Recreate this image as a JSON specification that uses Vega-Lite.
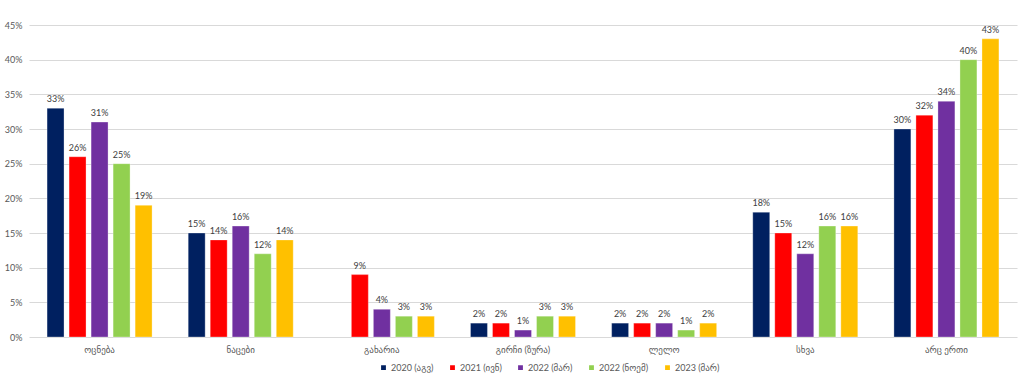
{
  "$schema": "https://vega.github.io/schema/vega-lite/v6.json",
  "width": 988,
  "height": 312,
  "autosize": {"type": "none"},
  "padding": {"left": 29, "top": 25, "right": 7, "bottom": 44},
  "background": "white",
  "config": {
    "view": {"stroke": null},
    "font": "Lato, DejaVu Sans",
    "axis": {"labelFont": "Lato, DejaVu Sans", "labelColor": "#595959", "labelFontSize": 9},
    "legend": {"labelFont": "Lato, DejaVu Sans", "labelColor": "#595959", "labelFontSize": 9}
  },
  "data": {
    "values": [
      {"party": "ოცნება", "wave": "2020 (აგვ)", "value": 0.33},
      {"party": "ოცნება", "wave": "2021 (ივნ)", "value": 0.26},
      {"party": "ოცნება", "wave": "2022 (მარ)", "value": 0.31},
      {"party": "ოცნება", "wave": "2022 (ნოემ)", "value": 0.25},
      {"party": "ოცნება", "wave": "2023 (მარ)", "value": 0.19},
      {"party": "ნაცები", "wave": "2020 (აგვ)", "value": 0.15},
      {"party": "ნაცები", "wave": "2021 (ივნ)", "value": 0.14},
      {"party": "ნაცები", "wave": "2022 (მარ)", "value": 0.16},
      {"party": "ნაცები", "wave": "2022 (ნოემ)", "value": 0.12},
      {"party": "ნაცები", "wave": "2023 (მარ)", "value": 0.14},
      {"party": "გახარია", "wave": "2021 (ივნ)", "value": 0.09},
      {"party": "გახარია", "wave": "2022 (მარ)", "value": 0.04},
      {"party": "გახარია", "wave": "2022 (ნოემ)", "value": 0.03},
      {"party": "გახარია", "wave": "2023 (მარ)", "value": 0.03},
      {"party": "გირჩი (ზურა)", "wave": "2020 (აგვ)", "value": 0.02},
      {"party": "გირჩი (ზურა)", "wave": "2021 (ივნ)", "value": 0.02},
      {"party": "გირჩი (ზურა)", "wave": "2022 (მარ)", "value": 0.01},
      {"party": "გირჩი (ზურა)", "wave": "2022 (ნოემ)", "value": 0.03},
      {"party": "გირჩი (ზურა)", "wave": "2023 (მარ)", "value": 0.03},
      {"party": "ლელო", "wave": "2020 (აგვ)", "value": 0.02},
      {"party": "ლელო", "wave": "2021 (ივნ)", "value": 0.02},
      {"party": "ლელო", "wave": "2022 (მარ)", "value": 0.02},
      {"party": "ლელო", "wave": "2022 (ნოემ)", "value": 0.01},
      {"party": "ლელო", "wave": "2023 (მარ)", "value": 0.02},
      {"party": "სხვა", "wave": "2020 (აგვ)", "value": 0.18},
      {"party": "სხვა", "wave": "2021 (ივნ)", "value": 0.15},
      {"party": "სხვა", "wave": "2022 (მარ)", "value": 0.12},
      {"party": "სხვა", "wave": "2022 (ნოემ)", "value": 0.16},
      {"party": "სხვა", "wave": "2023 (მარ)", "value": 0.16},
      {"party": "არც ერთი", "wave": "2020 (აგვ)", "value": 0.30},
      {"party": "არც ერთი", "wave": "2021 (ივნ)", "value": 0.32},
      {"party": "არც ერთი", "wave": "2022 (მარ)", "value": 0.34},
      {"party": "არც ერთი", "wave": "2022 (ნოემ)", "value": 0.40},
      {"party": "არც ერთი", "wave": "2023 (მარ)", "value": 0.43}
    ]
  },
  "encoding": {
    "x": {
      "field": "party", "type": "nominal", "sort": null, "title": null,
      "scale": {"paddingInner": 0.256, "paddingOuter": 0.128},
      "axis": {"labelAngle": 0, "ticks": false, "domain": false, "labelPadding": 8, "grid": false}
    },
    "xOffset": {
      "field": "wave", "type": "nominal",
      "sort": ["2020 (აგვ)", "2021 (ივნ)", "2022 (მარ)", "2022 (ნოემ)", "2023 (მარ)"],
      "scale": {"paddingInner": 0.23, "paddingOuter": 0}
    },
    "y": {
      "field": "value", "type": "quantitative", "title": null,
      "scale": {"domain": [0, 0.45], "nice": false},
      "axis": {"values": [0, 0.05, 0.1, 0.15, 0.2, 0.25, 0.3, 0.35, 0.4, 0.45], "format": ".0%", "ticks": false, "domain": false, "labelPadding": 7, "gridColor": "#D9D9D9"}
    }
  },
  "layer": [
    {
      "mark": {"type": "bar", "stroke": "white", "strokeOpacity": 0.3, "strokeWidth": 1},
      "encoding": {
        "color": {
          "field": "wave", "type": "nominal", "title": null,
          "sort": ["2020 (აგვ)", "2021 (ივნ)", "2022 (მარ)", "2022 (ნოემ)", "2023 (მარ)"],
          "scale": {"domain": ["2020 (აგვ)", "2021 (ივნ)", "2022 (მარ)", "2022 (ნოემ)", "2023 (მარ)"], "range": ["#002060", "#FF0000", "#7030A0", "#92D050", "#FFC000"]},
          "legend": {"orient": "none", "legendX": 350, "legendY": 338, "direction": "horizontal", "symbolType": "square", "symbolSize": 40, "columnPadding": 12, "labelOffset": 3}
        }
      }
    },
    {
      "mark": {"type": "text", "dy": -4, "fontSize": 9, "color": "#404040", "baseline": "bottom"},
      "encoding": {
        "text": {"field": "value", "type": "quantitative", "format": ".0%"}
      }
    }
  ]
}
